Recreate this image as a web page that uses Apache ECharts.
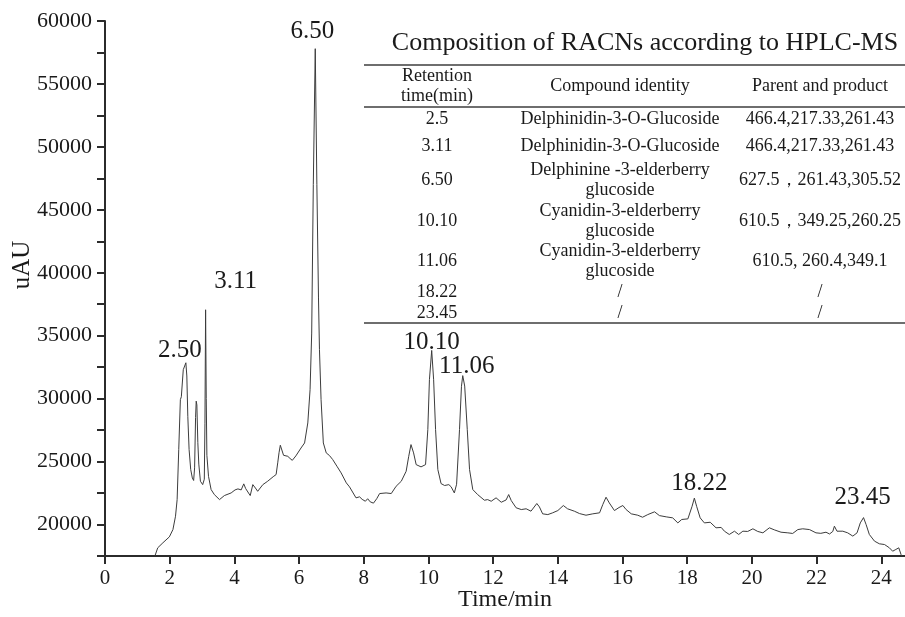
<!DOCTYPE html>
<html>
<head>
<meta charset="utf-8">
<script src="https://cdn.jsdelivr.net/npm/echarts@6/dist/echarts.min.js"></script>
<style>
  html, body { margin: 0; padding: 0; background: #fff; }
  #chart { width: 905px; height: 617px; }
</style>
</head>
<body>
<div id="chart"></div>
<script>
// HPLC chromatogram trace: retention time (min) and detector response (uAU)
const timeMin = [
  1.55, 1.63, 1.79, 1.99, 2.10, 2.18, 2.23, 2.28, 2.33, 2.36, 2.39, 2.42, 2.46, 2.50, 2.53, 2.56, 2.60, 2.65,
  2.70, 2.74, 2.77, 2.80, 2.82, 2.84, 2.87, 2.90, 2.95, 3.02, 3.07, 3.09, 3.11, 3.13, 3.15, 3.20, 3.28, 3.38,
  3.54, 3.69, 3.90, 4.02, 4.11, 4.21, 4.29, 4.35, 4.49, 4.57, 4.65, 4.72, 4.88, 5.03, 5.20, 5.29, 5.34, 5.38,
  5.42, 5.46, 5.52, 5.58, 5.65, 5.72, 5.79, 5.90, 6.06, 6.17, 6.27, 6.34, 6.39, 6.44, 6.50, 6.55, 6.60, 6.63,
  6.68, 6.75, 6.84, 6.94, 7.04, 7.17, 7.30, 7.46, 7.56, 7.61, 7.76, 7.87, 7.95, 8.05, 8.12, 8.20, 8.30, 8.40,
  8.49, 8.69, 8.85, 9.00, 9.16, 9.31, 9.39, 9.46, 9.54, 9.62, 9.77, 9.91, 9.98, 10.03, 10.10, 10.16, 10.22, 10.29,
  10.39, 10.50, 10.63, 10.70, 10.80, 10.87, 10.96, 11.02, 11.06, 11.12, 11.20, 11.27, 11.37, 11.52, 11.73, 11.83,
  11.94, 12.09, 12.25, 12.40, 12.48, 12.56, 12.71, 12.87, 13.02, 13.17, 13.35, 13.43, 13.53, 13.69, 13.84, 14.00,
  14.17, 14.30, 14.51, 14.67, 14.87, 15.08, 15.29, 15.39, 15.49, 15.59, 15.75, 15.89, 16.01, 16.11, 16.27, 16.47,
  16.62, 16.78, 16.99, 17.14, 17.35, 17.55, 17.71, 17.83, 18.02, 18.15, 18.22, 18.29, 18.40, 18.53, 18.71, 18.89,
  19.05, 19.15, 19.30, 19.46, 19.59, 19.72, 19.87, 20.03, 20.18, 20.34, 20.54, 20.69, 20.90, 21.11, 21.26, 21.42,
  21.57, 21.78, 21.98, 22.13, 22.29, 22.40, 22.50, 22.55, 22.63, 22.81, 22.96, 23.12, 23.25, 23.35, 23.45, 23.53,
  23.63, 23.79, 23.94, 24.10, 24.25, 24.35, 24.45, 24.54, 24.61, 24.64
];
const signalUAU = [
  17550, 18150, 18550, 19020, 19600, 20660, 21980, 25950, 29920, 30150, 30200, 32300, 32450, 32850, 31800, 28600, 25950, 24370,
  23700, 23500, 24500, 28500, 29800, 29500, 26500, 24800, 23440, 23170, 23600, 28000, 37060, 30000, 25500, 23830, 22780, 22380,
  21980, 22300, 22510, 22750, 22830, 22750, 23230, 22850, 22300, 23170, 22900, 22640, 23170, 23440, 23800, 23970, 24900, 25700,
  26300, 26270, 25500, 25600, 25420, 25250, 25100, 25450, 26080, 26480, 28070, 30710, 35210, 47000, 57800, 47000, 38000, 33890,
  29920, 26480, 25690, 25480, 25160, 24630, 24100, 23310, 22990, 22950, 22120, 22200, 22000, 21850, 22050, 21800, 21700, 22050,
  22460, 22510, 22460, 23040, 23440, 24230, 25420, 26350, 25690, 24760, 24580, 24760, 27540, 31510, 33830, 31500, 27540, 24370,
  23250, 23100, 23170, 23000, 22510, 23200, 27540, 30980, 31830, 31000, 27540, 24370, 22780, 22380, 21930, 21980,
  21850, 22120, 21770, 21950, 22380, 21900, 21330, 21190, 21250, 21060, 21670, 21400, 20850, 20790, 20930, 21110,
  21510, 21250, 21060, 20870, 20740, 20850, 20930, 21590, 22170, 21720, 21110, 21350, 21510, 21190, 20850, 20740,
  20580, 20790, 21010, 20710, 20610, 20530, 20130, 20400, 20450, 21450, 22100, 21450, 20530, 20130, 20180, 19740,
  19770, 19470, 19210, 19470, 19210, 19470, 19450, 19660, 19450, 19340, 19740, 19580, 19390, 19340, 19290, 19600,
  19660, 19600, 19340, 19300, 19390, 19250, 19450, 19870, 19470, 19470, 19340, 19080, 19340, 20130, 20550, 20000,
  19210, 18680, 18470, 18410, 18150, 17880, 18020, 18150, 17620, 17500
];

// Annotated peaks (retention time, min)
const peakTimes = [2.50, 3.11, 6.50, 10.10, 11.06, 18.22, 23.45];
const peakLabels = ['2.50', '3.11', '6.50', '10.10', '11.06', '18.22', '23.45'];

// Inset table: composition according to HPLC-MS
const tableTitle = 'Composition of RACNs according to HPLC-MS';
const tableHeaders = [['Retention', 'time(min)'], ['Compound identity'], ['Parent and product']];
const tableRetention = ['2.5', '3.11', '6.50', '10.10', '11.06', '18.22', '23.45'];
const tableCompound = [
  ['Delphinidin-3-O-Glucoside'],
  ['Delphinidin-3-O-Glucoside'],
  ['Delphinine -3-elderberry', 'glucoside'],
  ['Cyanidin-3-elderberry', 'glucoside'],
  ['Cyanidin-3-elderberry', 'glucoside'],
  ['/'],
  ['/']
];
const tableIons = [
  '466.4,217.33,261.43',
  '466.4,217.33,261.43',
  '627.5，261.43,305.52',
  '610.5，349.25,260.25',
  '610.5, 260.4,349.1',
  '/',
  '/'
];

const SERIF = '"Liberation Serif", "Times New Roman", serif';
const AXIS_COLOR = '#2b2b2b';

const chart = echarts.init(document.getElementById('chart'), null, { renderer: 'canvas' });

function valueAt(t) {
  const i = timeMin.indexOf(t);
  return signalUAU[i];
}

// Label offsets (px) relative to each peak apex
const peakLabelOffsets = [[-6, -12], [30, -28], [-3, -17], [0, -8], [4, -9], [5, -15], [-1, -20]];

// Build table graphics
const colX = [437, 620, 820];
const rowY = [119, 146, 180, 221, 261, 292, 313];
const LINE_GAP = 20;
const tableFont = '18px ' + SERIF;
const tableGraphics = [];

function addText(str, x, y, font) {
  tableGraphics.push({
    type: 'text',
    x: x, y: y,
    silent: true,
    style: {
      text: str, font: font, fill: '#1a1a1a',
      textAlign: 'center', textVerticalAlign: 'middle',
      align: 'center', verticalAlign: 'middle'
    }
  });
}
function addLines(lines, x, yc, font) {
  const n = lines.length;
  lines.forEach((s, k) => addText(s, x, yc + (k - (n - 1) / 2) * LINE_GAP, font));
}
function addRule(y, w) {
  tableGraphics.push({
    type: 'line', silent: true,
    shape: { x1: 364, y1: y, x2: 905, y2: y },
    style: { stroke: '#6e6e6e', lineWidth: w }
  });
}

addText(tableTitle, 645, 43, '26px ' + SERIF);
addRule(65, 2);
addRule(107, 2);
addRule(323, 2);
tableHeaders.forEach((h, c) => addLines(h, colX[c], 86, tableFont));
tableRetention.forEach((r, i) => {
  addLines([r], colX[0], rowY[i], tableFont);
  addLines(tableCompound[i], colX[1], rowY[i], tableFont);
  addLines([tableIons[i]], colX[2], rowY[i], tableFont);
});

// Axis titles
tableGraphics.push({
  type: 'text', silent: true, x: 22, y: 265, rotation: Math.PI / 2,
  style: { text: 'uAU', font: '25px ' + SERIF, fill: '#1a1a1a',
    textAlign: 'center', textVerticalAlign: 'middle', align: 'center', verticalAlign: 'middle' }
});
tableGraphics.push({
  type: 'text', silent: true, x: 505, y: 600,
  style: { text: 'Time/min', font: '24px ' + SERIF, fill: '#1a1a1a',
    textAlign: 'center', textVerticalAlign: 'middle', align: 'center', verticalAlign: 'middle' }
});

const option = {
  animation: false,
  backgroundColor: '#ffffff',
  grid: { left: 105, top: 21, right: -41, bottom: 61, containLabel: false, outerBoundsMode: 'none' },
  xAxis: {
    type: 'value',
    min: 0, max: 26, interval: 2,
    splitLine: { show: false },
    axisLine: { show: true, onZero: false, lineStyle: { color: AXIS_COLOR, width: 2 } },
    axisTick: { show: true, inside: false, length: 8, lineStyle: { color: AXIS_COLOR, width: 2 } },
    axisLabel: { show: true, margin: 12, color: '#1a1a1a', fontFamily: SERIF, fontSize: 21 }
  },
  yAxis: {
    type: 'value',
    min: 17500, max: 60000, interval: 2500,
    splitLine: { show: false },
    axisLine: { show: true, onZero: false, lineStyle: { color: AXIS_COLOR, width: 2 } },
    axisTick: { show: true, inside: false, length: 8, lineStyle: { color: AXIS_COLOR, width: 2 } },
    axisLabel: {
      show: true, margin: 13, color: '#1a1a1a', fontFamily: SERIF, fontSize: 22,
      formatter: v => (v % 5000 === 0 ? String(v) : '')
    }
  },
  series: [{
    type: 'line',
    data: timeMin.map((t, i) => [t, signalUAU[i]]),
    showSymbol: false,
    symbol: 'none',
    lineStyle: { color: '#3c3c3c', width: 1 },
    markPoint: {
      symbol: 'circle',
      symbolSize: 0,
      silent: true,
      label: { show: true, position: 'inside', color: '#1a1a1a', fontFamily: SERIF, fontSize: 25 },
      data: peakTimes.map((t, i) => ({
        coord: [t, valueAt(t)],
        value: peakLabels[i],
        label: { formatter: peakLabels[i], offset: peakLabelOffsets[i] }
      }))
    }
  }],
  graphic: tableGraphics
};

chart.setOption(option);
</script>
</body>
</html>
